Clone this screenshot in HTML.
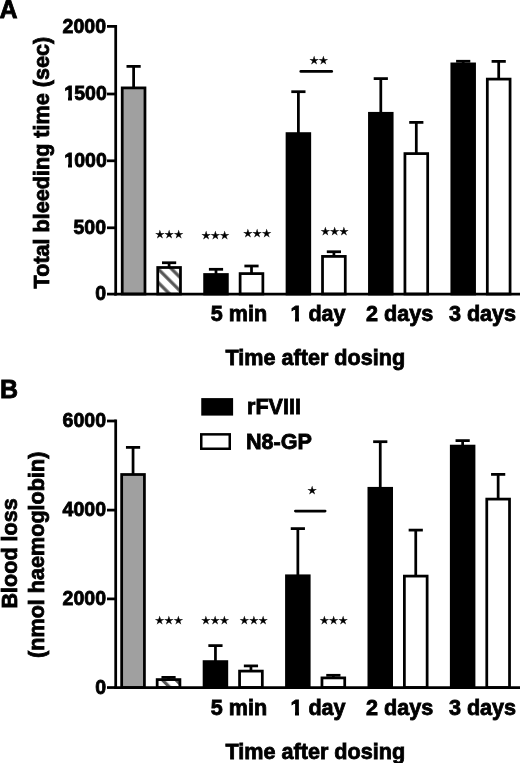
<!DOCTYPE html><html><head><meta charset="utf-8"><title>Bleeding time and blood loss</title><style>
html,body{margin:0;padding:0;background:#fff;width:520px;height:763px;overflow:hidden}
svg{display:block} .t,.k,.p{stroke:#000;stroke-width:0.8px} .t{font-family:"Liberation Sans", Arial, Helvetica, sans-serif;font-weight:bold;font-size:21.6px;fill:#000}
.k{font-family:"Liberation Sans", Arial, Helvetica, sans-serif;font-weight:bold;font-size:19.5px;fill:#000}
.p{font-family:"Liberation Sans", Arial, Helvetica, sans-serif;font-weight:bold;font-size:25px;fill:#000}
.s{font-family:"DejaVu Sans", sans-serif;font-size:10.9px;fill:#000;stroke:#000;stroke-width:0.3px;letter-spacing:-0.45px}
</style></head><body>
<svg width="520" height="763" viewBox="0 0 520 763">
<defs><pattern id="hatchA" patternUnits="userSpaceOnUse" width="9.546" height="9.546" patternTransform="rotate(-45)"><rect width="9.546" height="9.546" fill="#fff"/><rect x="5.97" y="0" width="3.2" height="9.546" fill="#555"/></pattern><pattern id="hatchB" patternUnits="userSpaceOnUse" width="9.546" height="9.546" patternTransform="rotate(-45)"><rect width="9.546" height="9.546" fill="#fff"/><rect x="4.76" y="0" width="3.2" height="9.546" fill="#555"/></pattern></defs>
<rect width="520" height="763" fill="#fff"/>
<line x1="133.60" y1="87.90" x2="133.60" y2="66.40" stroke="#000" stroke-width="2.75"/>
<line x1="126.50" y1="66.40" x2="140.70" y2="66.40" stroke="#000" stroke-width="2.75"/>
<rect x="122.22" y="87.90" width="22.75" height="206.10" fill="#a0a0a0" stroke="#000" stroke-width="2.75"/>
<line x1="169.10" y1="267.50" x2="169.10" y2="262.75" stroke="#000" stroke-width="2.75"/>
<line x1="162.00" y1="262.75" x2="176.20" y2="262.75" stroke="#000" stroke-width="2.75"/>
<rect x="157.72" y="267.50" width="22.75" height="26.50" fill="url(#hatchA)" stroke="#000" stroke-width="2.75"/>
<line x1="216.00" y1="274.50" x2="216.00" y2="269.30" stroke="#000" stroke-width="2.75"/>
<line x1="208.90" y1="269.30" x2="223.10" y2="269.30" stroke="#000" stroke-width="2.75"/>
<rect x="204.62" y="274.50" width="22.75" height="19.50" fill="#000" stroke="#000" stroke-width="2.75"/>
<line x1="251.50" y1="273.60" x2="251.50" y2="266.00" stroke="#000" stroke-width="2.75"/>
<line x1="244.40" y1="266.00" x2="258.60" y2="266.00" stroke="#000" stroke-width="2.75"/>
<rect x="240.12" y="273.60" width="22.75" height="20.40" fill="#fff" stroke="#000" stroke-width="2.75"/>
<line x1="298.40" y1="133.60" x2="298.40" y2="91.70" stroke="#000" stroke-width="2.75"/>
<line x1="291.30" y1="91.70" x2="305.50" y2="91.70" stroke="#000" stroke-width="2.75"/>
<rect x="287.02" y="133.60" width="22.75" height="160.40" fill="#000" stroke="#000" stroke-width="2.75"/>
<line x1="333.90" y1="256.40" x2="333.90" y2="251.75" stroke="#000" stroke-width="2.75"/>
<line x1="326.80" y1="251.75" x2="341.00" y2="251.75" stroke="#000" stroke-width="2.75"/>
<rect x="322.52" y="256.40" width="22.75" height="37.60" fill="#fff" stroke="#000" stroke-width="2.75"/>
<line x1="380.80" y1="113.30" x2="380.80" y2="78.60" stroke="#000" stroke-width="2.75"/>
<line x1="373.70" y1="78.60" x2="387.90" y2="78.60" stroke="#000" stroke-width="2.75"/>
<rect x="369.43" y="113.30" width="22.75" height="180.70" fill="#000" stroke="#000" stroke-width="2.75"/>
<line x1="416.30" y1="153.60" x2="416.30" y2="122.40" stroke="#000" stroke-width="2.75"/>
<line x1="409.20" y1="122.40" x2="423.40" y2="122.40" stroke="#000" stroke-width="2.75"/>
<rect x="404.93" y="153.60" width="22.75" height="140.40" fill="#fff" stroke="#000" stroke-width="2.75"/>
<line x1="463.20" y1="63.90" x2="463.20" y2="61.25" stroke="#000" stroke-width="2.75"/>
<line x1="456.10" y1="61.25" x2="470.30" y2="61.25" stroke="#000" stroke-width="2.75"/>
<rect x="451.82" y="63.90" width="22.75" height="230.10" fill="#000" stroke="#000" stroke-width="2.75"/>
<line x1="498.70" y1="79.10" x2="498.70" y2="61.40" stroke="#000" stroke-width="2.75"/>
<line x1="491.60" y1="61.40" x2="505.80" y2="61.40" stroke="#000" stroke-width="2.75"/>
<rect x="487.32" y="79.10" width="22.75" height="214.90" fill="#fff" stroke="#000" stroke-width="2.75"/>
<line x1="115.70" y1="25.02" x2="115.70" y2="295.38" stroke="#000" stroke-width="2.75"/>
<line x1="114.33" y1="294.00" x2="520" y2="294.00" stroke="#000" stroke-width="2.75"/>
<line x1="107" y1="294.10" x2="115.70" y2="294.10" stroke="#000" stroke-width="2.75"/>
<text x="106.0" y="300.30" text-anchor="end" class="k">0</text>
<line x1="107" y1="227.80" x2="115.70" y2="227.80" stroke="#000" stroke-width="2.75"/>
<text x="106.0" y="234.00" text-anchor="end" class="k">500</text>
<line x1="107" y1="160.80" x2="115.70" y2="160.80" stroke="#000" stroke-width="2.75"/>
<text x="106.0" y="167.00" text-anchor="end" class="k" clip-path="url(#c0)"><tspan dx="0.8">1</tspan><tspan dx="-0.8">000</tspan></text>
<line x1="107" y1="94.00" x2="115.70" y2="94.00" stroke="#000" stroke-width="2.75"/>
<text x="106.0" y="100.20" text-anchor="end" class="k" clip-path="url(#c1)"><tspan dx="0.8">1</tspan><tspan dx="-0.8">500</tspan></text>
<line x1="107" y1="26.40" x2="115.70" y2="26.40" stroke="#000" stroke-width="2.75"/>
<text x="106.0" y="32.60" text-anchor="end" class="k">2000</text>
<line x1="133.05" y1="474.50" x2="133.05" y2="447.40" stroke="#000" stroke-width="2.75"/>
<line x1="125.95" y1="447.40" x2="140.15" y2="447.40" stroke="#000" stroke-width="2.75"/>
<rect x="121.67" y="474.50" width="22.75" height="213.05" fill="#a0a0a0" stroke="#000" stroke-width="2.75"/>
<line x1="168.55" y1="679.60" x2="168.55" y2="677.40" stroke="#000" stroke-width="2.75"/>
<line x1="161.45" y1="677.40" x2="175.65" y2="677.40" stroke="#000" stroke-width="2.75"/>
<rect x="157.17" y="679.60" width="22.75" height="7.95" fill="url(#hatchB)" stroke="#000" stroke-width="2.75"/>
<line x1="215.45" y1="661.60" x2="215.45" y2="645.60" stroke="#000" stroke-width="2.75"/>
<line x1="208.35" y1="645.60" x2="222.55" y2="645.60" stroke="#000" stroke-width="2.75"/>
<rect x="204.07" y="661.60" width="22.75" height="25.95" fill="#000" stroke="#000" stroke-width="2.75"/>
<line x1="250.95" y1="671.10" x2="250.95" y2="665.90" stroke="#000" stroke-width="2.75"/>
<line x1="243.85" y1="665.90" x2="258.05" y2="665.90" stroke="#000" stroke-width="2.75"/>
<rect x="239.57" y="671.10" width="22.75" height="16.45" fill="#fff" stroke="#000" stroke-width="2.75"/>
<line x1="297.85" y1="575.80" x2="297.85" y2="528.60" stroke="#000" stroke-width="2.75"/>
<line x1="290.75" y1="528.60" x2="304.95" y2="528.60" stroke="#000" stroke-width="2.75"/>
<rect x="286.47" y="575.80" width="22.75" height="111.75" fill="#000" stroke="#000" stroke-width="2.75"/>
<line x1="333.35" y1="677.90" x2="333.35" y2="675.30" stroke="#000" stroke-width="2.75"/>
<line x1="326.25" y1="675.30" x2="340.45" y2="675.30" stroke="#000" stroke-width="2.75"/>
<rect x="321.97" y="677.90" width="22.75" height="9.65" fill="#fff" stroke="#000" stroke-width="2.75"/>
<line x1="380.25" y1="488.30" x2="380.25" y2="441.70" stroke="#000" stroke-width="2.75"/>
<line x1="373.15" y1="441.70" x2="387.35" y2="441.70" stroke="#000" stroke-width="2.75"/>
<rect x="368.88" y="488.30" width="22.75" height="199.25" fill="#000" stroke="#000" stroke-width="2.75"/>
<line x1="415.75" y1="576.10" x2="415.75" y2="530.10" stroke="#000" stroke-width="2.75"/>
<line x1="408.65" y1="530.10" x2="422.85" y2="530.10" stroke="#000" stroke-width="2.75"/>
<rect x="404.38" y="576.10" width="22.75" height="111.45" fill="#fff" stroke="#000" stroke-width="2.75"/>
<line x1="462.65" y1="446.10" x2="462.65" y2="440.60" stroke="#000" stroke-width="2.75"/>
<line x1="455.55" y1="440.60" x2="469.75" y2="440.60" stroke="#000" stroke-width="2.75"/>
<rect x="451.27" y="446.10" width="22.75" height="241.45" fill="#000" stroke="#000" stroke-width="2.75"/>
<line x1="498.15" y1="499.10" x2="498.15" y2="474.40" stroke="#000" stroke-width="2.75"/>
<line x1="491.05" y1="474.40" x2="505.25" y2="474.40" stroke="#000" stroke-width="2.75"/>
<rect x="486.77" y="499.10" width="22.75" height="188.45" fill="#fff" stroke="#000" stroke-width="2.75"/>
<line x1="115.70" y1="419.62" x2="115.70" y2="688.92" stroke="#000" stroke-width="2.75"/>
<line x1="114.33" y1="687.55" x2="520" y2="687.55" stroke="#000" stroke-width="2.75"/>
<line x1="107" y1="687.55" x2="115.70" y2="687.55" stroke="#000" stroke-width="2.75"/>
<text x="106.0" y="693.75" text-anchor="end" class="k">0</text>
<line x1="107" y1="598.90" x2="115.70" y2="598.90" stroke="#000" stroke-width="2.75"/>
<text x="106.0" y="605.10" text-anchor="end" class="k">2000</text>
<line x1="107" y1="510.10" x2="115.70" y2="510.10" stroke="#000" stroke-width="2.75"/>
<text x="106.0" y="516.30" text-anchor="end" class="k">4000</text>
<line x1="107" y1="421.00" x2="115.70" y2="421.00" stroke="#000" stroke-width="2.75"/>
<text x="106.0" y="427.20" text-anchor="end" class="k">6000</text>
<text x="-0.4" y="18.0" class="p">A</text>
<text x="0" y="397.5" class="p">B</text>
<text transform="translate(48.6 162.6) rotate(-90)" text-anchor="middle" class="t">Total bleeding time (sec)</text>
<text transform="translate(17 553.4) rotate(-90)" text-anchor="middle" class="t">Blood loss</text>
<text transform="translate(44 554.8) rotate(-90)" text-anchor="middle" class="t">(nmol haemoglobin)</text>
<text x="238.9" y="321.00" text-anchor="middle" class="t">5 min</text>
<text x="318.0" y="321.00" text-anchor="middle" class="t" clip-path="url(#c2)">1 day</text>
<text x="399.7" y="321.00" text-anchor="middle" class="t">2 days</text>
<text x="482.5" y="321.00" text-anchor="middle" class="t">3 days</text>
<text x="315.3" y="365.20" text-anchor="middle" class="t">Time after dosing</text>
<text x="238.9" y="714.70" text-anchor="middle" class="t">5 min</text>
<text x="318.0" y="714.70" text-anchor="middle" class="t" clip-path="url(#c3)">1 day</text>
<text x="399.7" y="714.70" text-anchor="middle" class="t">2 days</text>
<text x="482.5" y="714.70" text-anchor="middle" class="t">3 days</text>
<text x="315.3" y="758.90" text-anchor="middle" class="t">Time after dosing</text>
<text x="169.00" y="237.70" text-anchor="middle" class="s">★★★</text>
<text x="215.20" y="238.60" text-anchor="middle" class="s">★★★</text>
<text x="257.00" y="237.40" text-anchor="middle" class="s">★★★</text>
<text x="334.40" y="235.00" text-anchor="middle" class="s">★★★</text>
<text x="168.75" y="624.20" text-anchor="middle" class="s">★★★</text>
<text x="214.90" y="624.20" text-anchor="middle" class="s">★★★</text>
<text x="253.60" y="624.20" text-anchor="middle" class="s">★★★</text>
<text x="333.50" y="623.50" text-anchor="middle" class="s">★★★</text>
<text x="318.50" y="63.50" text-anchor="middle" class="s">★★</text>
<text x="312.00" y="493.50" text-anchor="middle" class="s">★</text>
<line x1="300.8" y1="71.4" x2="331.7" y2="71.4" stroke="#000" stroke-width="2.75" stroke-linecap="round"/>
<line x1="295.4" y1="511" x2="325.1" y2="511" stroke="#000" stroke-width="2.75" stroke-linecap="round"/>
<rect x="201.25" y="398.1" width="31.85" height="17.5" fill="#000"/>
<rect x="201.25" y="434.35" width="28.5" height="14.399999999999999" fill="#fff" stroke="#000" stroke-width="2.5"/>
<text x="247" y="414.4" class="t">rFVIII</text>
<text x="246" y="448.5" class="t">N8-GP</text>
<defs><clipPath id="c0" clipPathUnits="userSpaceOnUse"><rect x="0" y="0" width="520" height="163.5"/><rect x="0" y="167.9" width="520" height="595.1"/><rect x="68" y="163.0" width="4" height="5.400000000000006"/><rect x="75" y="163.0" width="445" height="5.400000000000006"/></clipPath><clipPath id="c1" clipPathUnits="userSpaceOnUse"><rect x="0" y="0" width="520" height="96.5"/><rect x="0" y="100.9" width="520" height="662.1"/><rect x="68" y="96.0" width="4" height="5.400000000000006"/><rect x="75" y="96.0" width="445" height="5.400000000000006"/></clipPath><clipPath id="c2" clipPathUnits="userSpaceOnUse"><rect x="0" y="0" width="520" height="317.5"/><rect x="0" y="321.9" width="520" height="441.1"/><rect x="295" y="317.0" width="4" height="5.399999999999977"/><rect x="303.5" y="317.0" width="216.5" height="5.399999999999977"/></clipPath><clipPath id="c3" clipPathUnits="userSpaceOnUse"><rect x="0" y="0" width="520" height="711.5"/><rect x="0" y="715.9" width="520" height="47.10000000000002"/><rect x="295" y="711.0" width="4" height="5.399999999999977"/><rect x="303.5" y="711.0" width="216.5" height="5.399999999999977"/></clipPath></defs>
</svg></body></html>
